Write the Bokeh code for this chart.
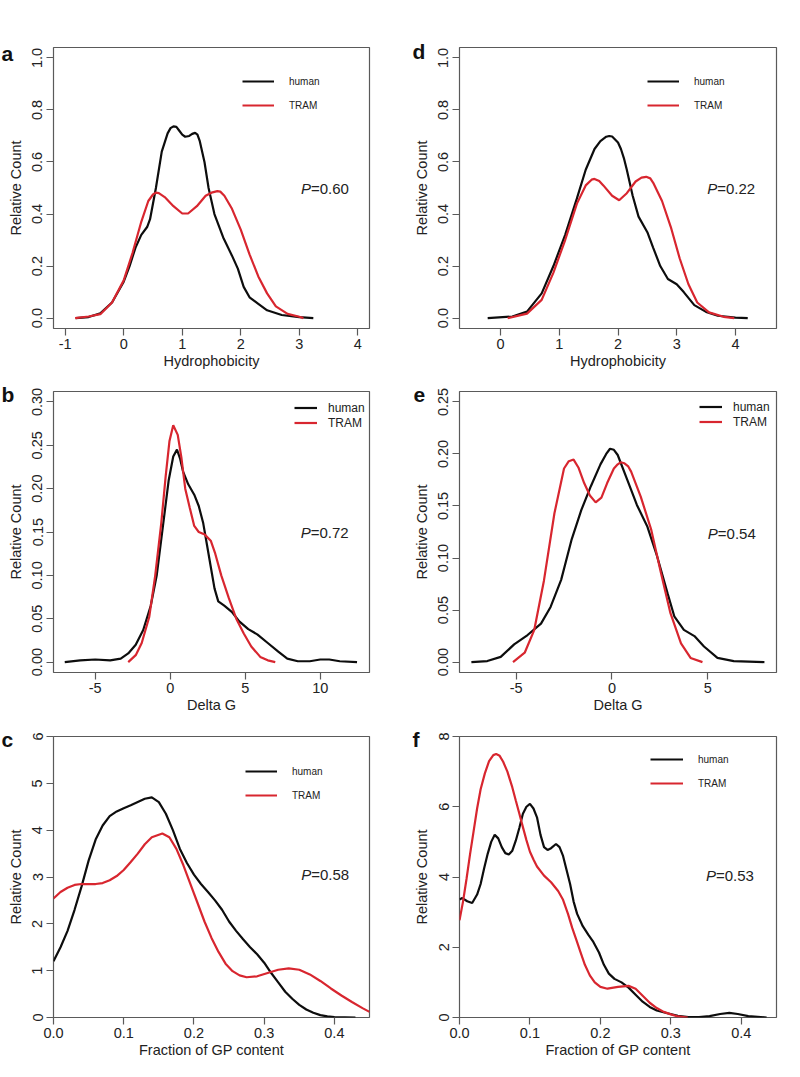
from bokeh.plotting import figure
from bokeh.models import Range1d, FixedTicker, Label, Legend, LegendItem
from bokeh.layouts import column, row
from bokeh.embed import file_html
from bokeh.resources import INLINE

# ---------------- data ----------------
series_names = ["human", "TRAM"]
letters = ["a", "b", "c", "d", "e", "f"]
x_titles = ["Hydrophobicity", "Delta G", "Fraction of GP content",
            "Hydrophobicity", "Delta G", "Fraction of GP content"]
y_title = "Relative Count"
p_values = ["=0.60", "=0.72", "=0.58", "=0.22", "=0.54", "=0.53"]

# panel a: hydrophobicity
a_human_x = [-0.82, -0.6, -0.4, -0.2, 0.0, 0.1, 0.2, 0.3, 0.4, 0.45, 0.55, 0.65, 0.75, 0.8, 0.85, 0.9, 0.95,
             1.0, 1.05, 1.12, 1.17, 1.22, 1.26, 1.3, 1.38, 1.45, 1.55, 1.7, 1.85, 1.95, 2.05, 2.15, 2.3,
             2.45, 2.7, 3.0, 3.24]
a_human_y = [0.0, 0.004, 0.018, 0.06, 0.14, 0.2, 0.27, 0.32, 0.35, 0.38, 0.5, 0.64, 0.71, 0.73, 0.737, 0.735,
             0.72, 0.705, 0.697, 0.7, 0.708, 0.712, 0.705, 0.68, 0.6, 0.5, 0.4, 0.31, 0.24, 0.19, 0.12, 0.08,
             0.055, 0.03, 0.012, 0.004, 0.0]
a_tram_x = [-0.83, -0.6, -0.4, -0.2, 0.0, 0.15, 0.3, 0.42, 0.5, 0.55, 0.6, 0.7, 0.85, 1.0, 1.1, 1.25, 1.4,
            1.5, 1.6, 1.65, 1.72, 1.85, 2.0, 2.15, 2.3, 2.45, 2.6, 2.8, 3.0, 3.07]
a_tram_y = [0.0, 0.006, 0.015, 0.06, 0.145, 0.25, 0.37, 0.45, 0.475, 0.482, 0.48, 0.465, 0.43, 0.402, 0.402,
            0.43, 0.47, 0.482, 0.488, 0.486, 0.47, 0.42, 0.34, 0.245, 0.16, 0.095, 0.045, 0.016, 0.005, 0.0]

# panel b: delta G
b_human_x = [-7.03, -6.0, -5.0, -4.0, -3.3, -2.8, -2.3, -1.8, -1.3, -0.9, -0.5, -0.1, 0.2, 0.45, 0.65, 0.85,
             1.2, 1.6, 1.9, 2.2, 2.45, 2.7, 2.95, 3.2, 3.6, 4.1, 4.6, 5.2, 5.8, 6.5, 7.2, 7.8, 8.5, 9.3,
             10.0, 10.6, 11.3, 12.45]
b_human_y = [0.0, 0.002, 0.003, 0.002, 0.004, 0.01, 0.02, 0.037, 0.065, 0.1, 0.155, 0.21, 0.237, 0.245, 0.235, 0.22,
             0.205, 0.193, 0.18, 0.16, 0.135, 0.11, 0.085, 0.07, 0.065, 0.058, 0.047, 0.038, 0.032, 0.022, 0.012,
             0.004, 0.001, 0.001, 0.003, 0.003, 0.001, 0.0]
b_tram_x = [-2.8, -2.3, -1.9, -1.4, -1.0, -0.6, -0.3, -0.05, 0.2, 0.5, 0.75, 1.0, 1.3, 1.6, 1.9, 2.3, 2.7,
            3.0, 3.4, 3.9, 4.4, 4.9, 5.4, 6.0, 6.5, 7.0]
b_tram_y = [0.0, 0.008, 0.022, 0.052, 0.1, 0.16, 0.215, 0.255, 0.273, 0.262, 0.235, 0.2, 0.178, 0.157, 0.15,
            0.147, 0.14, 0.125, 0.1, 0.074, 0.05, 0.033, 0.018, 0.006, 0.002, 0.0]

# panel c: fraction of GP content
c_human_x = [0.0, 0.01, 0.02, 0.03, 0.04, 0.05, 0.06, 0.07, 0.08, 0.09, 0.1, 0.11, 0.12, 0.13, 0.14, 0.15,
             0.16, 0.17, 0.18, 0.19, 0.2, 0.21, 0.22, 0.23, 0.24, 0.25, 0.26, 0.27, 0.28, 0.29, 0.30, 0.31,
             0.32, 0.33, 0.34, 0.35, 0.36, 0.37, 0.38, 0.39, 0.40, 0.43]
c_human_y = [1.2, 1.5, 1.85, 2.3, 2.8, 3.35, 3.8, 4.1, 4.3, 4.4, 4.47, 4.53, 4.6, 4.67, 4.7, 4.6,
             4.35, 4.0, 3.6, 3.3, 3.05, 2.85, 2.68, 2.5, 2.3, 2.05, 1.85, 1.67, 1.5, 1.35, 1.17, 0.95,
             0.75, 0.55, 0.4, 0.27, 0.17, 0.1, 0.05, 0.025, 0.01, 0.0]
c_tram_x = [0.0, 0.01, 0.02, 0.03, 0.04, 0.05, 0.06, 0.07, 0.08, 0.09, 0.1, 0.11, 0.12, 0.13, 0.14, 0.155,
            0.165, 0.175, 0.185, 0.195, 0.205, 0.215, 0.225, 0.235, 0.245, 0.255, 0.265, 0.275, 0.29, 0.305,
            0.32, 0.335, 0.35, 0.365, 0.38, 0.395, 0.41, 0.425, 0.44, 0.45]
c_tram_y = [2.54, 2.68, 2.77, 2.83, 2.85, 2.85, 2.85, 2.87, 2.93, 3.02, 3.15, 3.32, 3.5, 3.7, 3.85, 3.93,
            3.85, 3.6, 3.25, 2.85, 2.45, 2.05, 1.7, 1.4, 1.15, 0.99, 0.9, 0.86, 0.88, 0.95,
            1.02, 1.05, 1.02, 0.92, 0.78, 0.62, 0.47, 0.33, 0.2, 0.12]

# panel d: hydrophobicity
d_human_x = [-0.22, 0.2, 0.45, 0.7, 0.9, 1.1, 1.3, 1.45, 1.6, 1.7, 1.8, 1.85, 1.9, 2.0, 2.05, 2.1, 2.15, 2.25,
             2.35, 2.5, 2.6, 2.72, 2.85, 3.0, 3.12, 3.3, 3.5, 3.7, 4.0, 4.21]
d_human_y = [0.0, 0.006, 0.025, 0.095, 0.2, 0.32, 0.46, 0.57, 0.65, 0.68, 0.697, 0.7, 0.698, 0.675, 0.65, 0.615,
             0.57, 0.47, 0.39, 0.33, 0.27, 0.2, 0.15, 0.13, 0.1, 0.05, 0.024, 0.009, 0.002, 0.0]
d_tram_x = [0.12, 0.45, 0.7, 0.9, 1.1, 1.3, 1.45, 1.55, 1.6, 1.68, 1.75, 1.9, 2.02, 2.15, 2.3, 2.4, 2.48,
            2.55, 2.6, 2.75, 2.9, 3.05, 3.2, 3.35, 3.55, 3.8, 3.98]
d_tram_y = [0.0, 0.017, 0.07, 0.175, 0.3, 0.44, 0.51, 0.532, 0.535, 0.527, 0.51, 0.47, 0.453, 0.48, 0.525,
            0.54, 0.543, 0.537, 0.52, 0.45, 0.35, 0.23, 0.13, 0.06, 0.022, 0.005, 0.0]

# panel e: delta G
e_human_x = [-7.33, -6.5, -5.8, -5.1, -4.4, -3.7, -3.2, -2.65, -2.1, -1.6, -1.1, -0.6, -0.3, -0.1, 0.1, 0.3,
             0.8, 1.3, 1.85, 2.35, 2.9, 3.25, 3.75, 4.3, 4.8, 5.5, 6.35, 7.95]
e_human_y = [0.0, 0.001, 0.005, 0.017, 0.026, 0.037, 0.053, 0.079, 0.118, 0.146, 0.169, 0.19, 0.2, 0.205, 0.204,
             0.199, 0.175, 0.151, 0.13, 0.102, 0.066, 0.044, 0.031, 0.025, 0.015, 0.004, 0.001, 0.0]
e_tram_x = [-5.16, -4.55, -4.05, -3.55, -3.0, -2.5, -2.25, -2.0, -1.75, -1.45, -1.15, -0.85, -0.55, -0.25,
            0.1, 0.3, 0.45, 0.65, 0.85, 1.0, 1.5, 2.05, 2.55, 3.05, 3.6, 4.1, 4.72]
e_tram_y = [0.0, 0.009, 0.031, 0.078, 0.143, 0.186, 0.193, 0.1946, 0.187, 0.172, 0.16, 0.1535, 0.158, 0.172,
            0.186, 0.19, 0.192, 0.191, 0.188, 0.183, 0.159, 0.127, 0.086, 0.047, 0.018, 0.004, 0.0]

# panel f: fraction of GP content
f_human_x = [0.0, 0.004, 0.011, 0.018, 0.025, 0.03, 0.035, 0.04, 0.045, 0.05, 0.055, 0.06, 0.065, 0.07,
             0.075, 0.08, 0.085, 0.09, 0.095, 0.1, 0.105, 0.11, 0.115, 0.12, 0.125, 0.13, 0.137, 0.142,
             0.147, 0.152, 0.157, 0.162, 0.167, 0.175, 0.183, 0.19, 0.198, 0.205, 0.212, 0.22, 0.23, 0.24,
             0.25, 0.26, 0.27, 0.28, 0.295, 0.31, 0.325, 0.34, 0.355, 0.37, 0.383, 0.395, 0.41, 0.436]
f_human_y = [3.36, 3.4, 3.31, 3.26, 3.5, 3.8, 4.25, 4.66, 5.0, 5.2, 5.1, 4.85, 4.68, 4.64,
             4.75, 5.04, 5.4, 5.8, 6.0, 6.08, 5.95, 5.7, 5.2, 4.85, 4.77, 4.82, 4.94, 4.85,
             4.6, 4.2, 3.8, 3.3, 2.95, 2.6, 2.35, 2.15, 1.85, 1.5, 1.25, 1.1, 1.0, 0.85,
             0.65, 0.45, 0.3, 0.2, 0.12, 0.05, 0.01, 0.01, 0.04, 0.1, 0.13, 0.1, 0.04, 0.0]
f_tram_x = [0.0, 0.005, 0.01, 0.015, 0.02, 0.025, 0.03, 0.036, 0.042, 0.048, 0.052, 0.057, 0.062, 0.068,
            0.075, 0.08, 0.085, 0.09, 0.095, 0.1, 0.105, 0.11, 0.12, 0.13, 0.14, 0.147, 0.154, 0.16, 0.166,
            0.172, 0.178, 0.185, 0.192, 0.2, 0.21, 0.225, 0.24, 0.25, 0.26, 0.27, 0.28, 0.29, 0.3, 0.31, 0.324]
f_tram_y = [2.77, 3.3, 3.95, 4.65, 5.3, 5.95, 6.5, 6.95, 7.3, 7.47, 7.5, 7.45, 7.28, 7.0,
            6.55, 6.17, 5.8, 5.42, 5.05, 4.72, 4.5, 4.3, 4.04, 3.85, 3.6, 3.35, 2.95, 2.55, 2.2,
            1.85, 1.5, 1.2, 1.0, 0.87, 0.82, 0.87, 0.9, 0.82, 0.62, 0.42, 0.27, 0.16, 0.09, 0.03, 0.0]

# tick values / labels
hyd_a_ticks = [-1, 0, 1, 2, 3, 4]
hyd_d_ticks = [0, 1, 2, 3, 4]
dg_b_ticks = [-5, 0, 5, 10]
dg_e_ticks = [-5, 0, 5]
gp_ticks = [0.0, 0.1, 0.2, 0.3, 0.4]
gp_labels = ["0.0", "0.1", "0.2", "0.3", "0.4"]
hyd_y_ticks = [0.0, 0.2, 0.4, 0.6, 0.8, 1.0]
hyd_y_labels = ["0.0", "0.2", "0.4", "0.6", "0.8", "1.0"]
dg_b_y_ticks = [0.0, 0.05, 0.10, 0.15, 0.20, 0.25, 0.30]
dg_b_y_labels = ["0.00", "0.05", "0.10", "0.15", "0.20", "0.25", "0.30"]
dg_e_y_ticks = [0.0, 0.05, 0.10, 0.15, 0.20, 0.25]
dg_e_y_labels = ["0.00", "0.05", "0.10", "0.15", "0.20", "0.25"]
gp_c_y_ticks = [0, 1, 2, 3, 4, 5, 6]
gp_f_y_ticks = [0, 2, 4, 6, 8]

# ---------------- style ----------------
FONT = "Liberation Sans"
BLACK = "#0d0d0d"
RED = "#d8262f"
FRAME = "#5a5a5a"
TXT = "#222222"
TICK_FS = "14.5px"


def panel(letter, xr, yr, xt, xl, yt, yl, xtitle, hx, hy, tx, ty, ptxt, pxy,
          leg_loc, leg_font, glyph_w, glyph_h, leg_standoff, leg_spacing,
          width, height, bl, br, bt, bb, lx, ly):
    p = figure(width=width, height=height, x_range=Range1d(*xr), y_range=Range1d(*yr),
               output_backend="svg", toolbar_location=None,
               min_border_left=bl, min_border_right=br, min_border_top=bt, min_border_bottom=bb)
    p.grid.visible = False
    p.outline_line_color = FRAME
    p.outline_line_width = 1.2
    p.background_fill_color = "white"
    p.border_fill_color = "white"

    for ax, ticks, labels in ((p.xaxis[0], xt, xl), (p.yaxis[0], yt, yl)):
        ax.ticker = FixedTicker(ticks=ticks)
        ax.major_label_overrides = {t: l for t, l in zip(ticks, labels)}
        ax.axis_line_color = None
        ax.major_tick_line_color = FRAME
        ax.major_tick_line_width = 1.2
        ax.major_tick_out = 7
        ax.major_tick_in = 0
        ax.minor_tick_line_color = None
        ax.major_label_text_font = FONT
        ax.major_label_text_font_size = TICK_FS
        ax.major_label_text_color = TXT
        ax.axis_label_text_font = FONT
        ax.axis_label_text_font_size = TICK_FS
        ax.axis_label_text_font_style = "normal"
        ax.axis_label_text_color = TXT
    p.xaxis.axis_label = xtitle
    p.yaxis.axis_label = y_title
    p.xaxis.major_label_standoff = 3
    p.xaxis.axis_label_standoff = 1
    p.yaxis.major_label_standoff = 4
    p.yaxis.axis_label_standoff = 6
    p.yaxis.major_label_orientation = "vertical"

    r1 = p.line(hx, hy, line_color=BLACK, line_width=2.2)
    r2 = p.line(tx, ty, line_color=RED, line_width=2.2)

    leg = Legend(items=[LegendItem(label=series_names[0], renderers=[r1]),
                        LegendItem(label=series_names[1], renderers=[r2])],
                 location=leg_loc, orientation="vertical",
                 label_text_font=FONT, label_text_font_size=leg_font, label_text_color=TXT,
                 glyph_width=glyph_w, glyph_height=glyph_h, label_height=glyph_h,
                 label_standoff=leg_standoff, spacing=leg_spacing, padding=0, margin=0,
                 border_line_color=None, background_fill_alpha=0)
    p.add_layout(leg)

    p.add_layout(Label(x=pxy[0], y=pxy[1], text="P", text_font=FONT, text_font_size="15px",
                       text_font_style="italic", text_color=TXT,
                       text_align="right", text_baseline="middle"))
    p.add_layout(Label(x=pxy[0], y=pxy[1], text=ptxt, text_font=FONT, text_font_size="15px",
                       text_color=TXT, text_align="left", text_baseline="middle"))

    # panel letter: kept in a side panel so it is not clipped to the frame
    p.add_layout(Label(x=xr[0], y=yr[1], x_offset=lx, y_offset=-ly, text=letter,
                       text_font=FONT, text_font_size="21px", text_font_style="bold",
                       text_color="#111111", text_align="left", text_baseline="alphabetic"), "right")
    return p


LW, RW = 400, 400
pa = panel(letters[0], (-1.2, 4.2), (-0.04, 1.04), hyd_a_ticks, [str(v) for v in hyd_a_ticks],
           hyd_y_ticks, hyd_y_labels, x_titles[0], a_human_x, a_human_y, a_tram_x, a_tram_y,
           p_values[0], (3.2, 0.5), (189, 213), "10px", 32, 20, 15, 4,
           LW, 378, 53, 31, 47, 50, -52, 6)
pd_ = panel(letters[3], (-0.7, 4.7), (-0.04, 1.04), hyd_d_ticks, [str(v) for v in hyd_d_ticks],
            hyd_y_ticks, hyd_y_labels, x_titles[3], d_human_x, d_human_y, d_tram_x, d_tram_y,
            p_values[3], (3.69, 0.5), (188, 213), "10px", 32, 20, 15, 4,
            RW, 378, 59, 24, 47, 50, -47, 4)
pb = panel(letters[1], (-7.78, 13.28), (-0.012, 0.312), dg_b_ticks, [str(v) for v in dg_b_ticks],
           dg_b_y_ticks, dg_b_y_labels, x_titles[1], b_human_x, b_human_y, b_tram_x, b_tram_y,
           p_values[1], (9.36, 0.149), (241, 242), "12px", 23, 15, 11, 0,
           LW, 346, 53, 31, 13, 52, -52, 3)
pe = panel(letters[4], (-7.95, 8.58), (-0.01, 0.26), dg_e_ticks, [str(v) for v in dg_e_ticks],
           dg_e_y_ticks, dg_e_y_labels, x_titles[4], e_human_x, e_human_y, e_tram_x, e_tram_y,
           p_values[4], (5.52, 0.124), (240, 243), "12px", 23, 15, 11, 0,
           RW, 346, 59, 24, 13, 52, -46, 3)
pc = panel(letters[2], (0.0, 0.45), (0.0, 6.0), gp_ticks, gp_labels,
           gp_c_y_ticks, [str(v) for v in gp_c_y_ticks], x_titles[2], c_human_x, c_human_y, c_tram_x, c_tram_y,
           p_values[2], (0.367, 3.05), (192, 212), "10px", 32, 20, 15, 4,
           LW, 343, 53, 31, 12, 50, -52, 3)
pf = panel(letters[5], (0.0, 0.45), (0.0, 8.0), gp_ticks, gp_labels,
           gp_f_y_ticks, [str(v) for v in gp_f_y_ticks], x_titles[5], f_human_x, f_human_y, f_tram_x, f_tram_y,
           p_values[5], (0.364, 4.04), (191, 224), "10px", 33, 20, 15, 4,
           RW, 343, 59, 24, 12, 50, -47, 3)

layout = column(row(pa, pd_), row(pb, pe), row(pc, pf))
open("out.html", "w").write(file_html(layout, INLINE))
